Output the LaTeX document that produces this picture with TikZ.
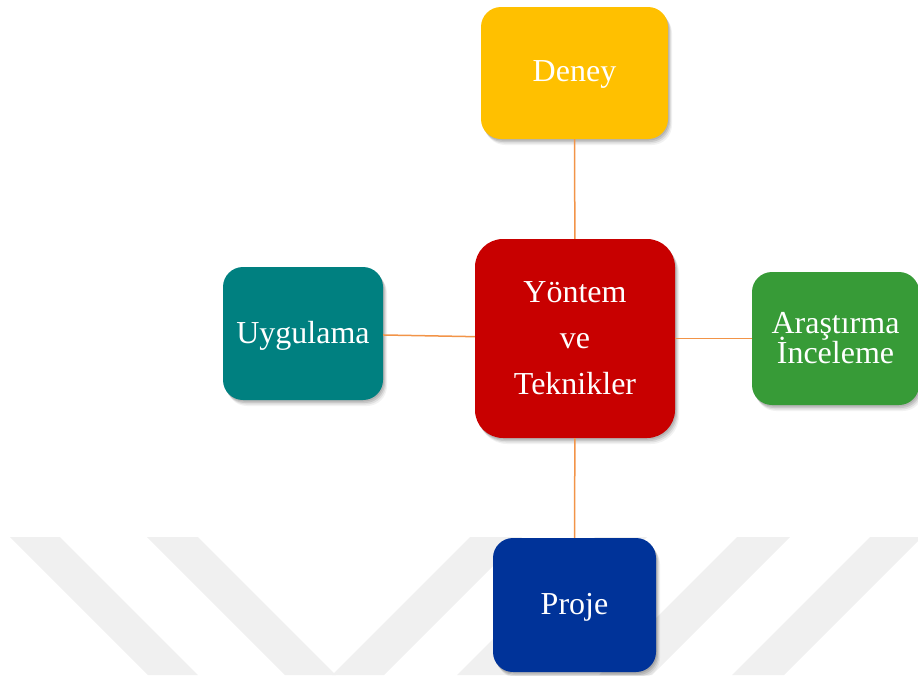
\documentclass[tikz,border=0pt]{standalone}
\usepackage{fontspec}
\setmainfont{Liberation Serif}
\definecolor{cDeney}{HTML}{FFC000}
\definecolor{cYontem}{HTML}{C80000}
\definecolor{cArastirma}{HTML}{379B37}
\definecolor{cUygulama}{HTML}{008080}
\definecolor{cProje}{HTML}{003399}
\definecolor{cLink}{RGB}{242,148,72}
\definecolor{cWm}{HTML}{F0F0F0}
\begin{document}
\begin{tikzpicture}[x=1pt,y=-1pt,
  softshadow/.style={
    preaction={fill=black, opacity=0.10, transform canvas={xshift=1pt, yshift=-1.5pt}},
    preaction={fill=black, opacity=0.10, transform canvas={xshift=2pt, yshift=-3pt}},
    preaction={fill=black, opacity=0.08, transform canvas={xshift=3pt, yshift=-4.5pt}},
    preaction={fill=black, opacity=0.05, transform canvas={xshift=4pt, yshift=-6pt}}},
  box/.style={softshadow, rounded corners=20pt, text=white, inner sep=0pt, align=center,
    font=\fontsize{32}{46}\selectfont},
  oneline/.style={text depth=3pt},
  link/.style={draw=cLink, line width=1.5pt},
  wm/.style={fill=cWm}]
\useasboundingbox (0,0) rectangle (918,675);
% watermark bands
\fill[wm] (10,537) -- (60,537) -- (198,675) -- (148,675) -- cycle;
\fill[wm] (147,537) -- (198,537) -- (336,675) -- (285,675) -- cycle;
\fill[wm] (470,537) -- (522,537) -- (384,675) -- (332,675) -- cycle;
\fill[wm] (595,537) -- (647,537) -- (509,675) -- (457,675) -- cycle;
\fill[wm] (737,537) -- (790,537) -- (652,675) -- (599,675) -- cycle;
\fill[wm] (870,537) -- (922,537) -- (784,675) -- (732,675) -- cycle;
% boxes
\node[box, oneline, fill=cDeney, minimum width=187pt, minimum height=132pt] (deney) at (574.5,73) {Deney};
\node[box, fill=cYontem, rounded corners=28pt, minimum width=200pt, minimum height=199pt] (yontem) at (575,338.5) {Yöntem\\ve\\Teknikler};
\node[box, fill=cArastirma, minimum width=167pt, minimum height=133pt,
  font={\fontsize{32}{30}\selectfont\lineskiplimit=-50pt}] (arastirma) at (835.5,338.5) {Araştırma\\İnceleme};
\node[box, oneline, fill=cUygulama, minimum width=160pt, minimum height=133pt] (uygulama) at (303,333.5) {Uygulama};
\node[box, oneline, fill=cProje, minimum width=163pt, minimum height=134pt] (proje) at (574.5,605) {Proje};
% connectors
\draw[link] (deney) -- (yontem);
\draw[link] (yontem) -- (proje);
\draw[link] (uygulama) -- (yontem);
\draw[link] (yontem) -- (arastirma);
\end{tikzpicture}
\end{document}
